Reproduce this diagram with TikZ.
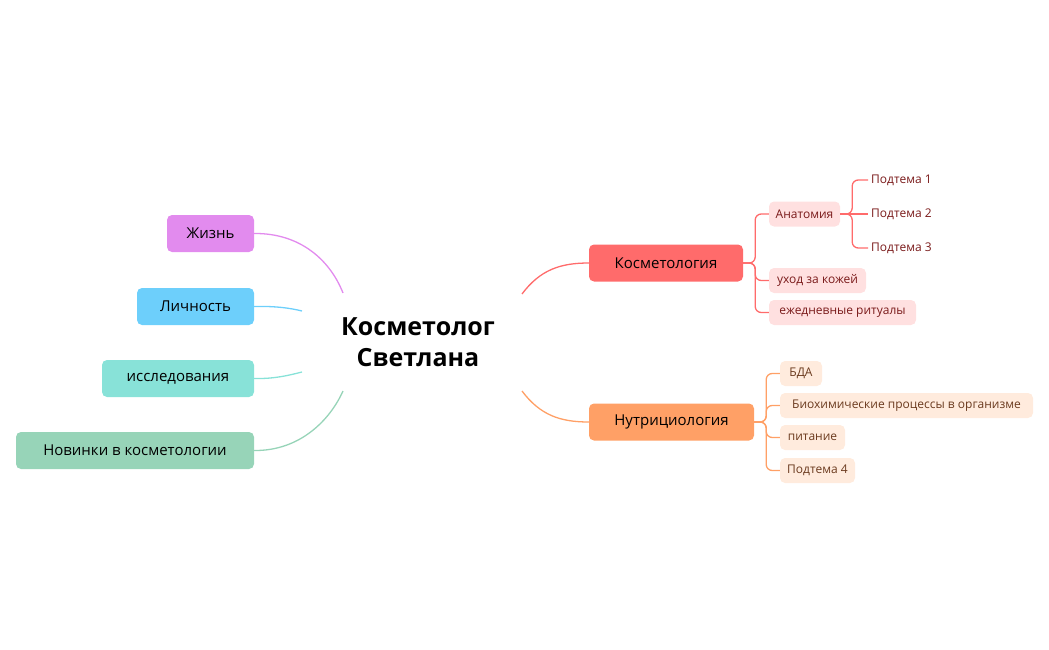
\documentclass[tikz,border=0pt]{standalone}
\usepackage{fontspec}
\setmainfont{Open Sans}
\begin{document}
\begin{tikzpicture}[x=1pt,y=-1pt,
  main/.style={rounded corners=5pt,minimum height=37pt,inner sep=0pt,font=\fontsize{15}{18}\selectfont,text=black},
  sub/.style={rounded corners=5pt,minimum height=25pt,inner sep=0pt,font=\fontsize{12}{14}\selectfont},
  ksub/.style={sub,fill=kfill,text=ktext},
  nsub/.style={sub,fill=nfill,text=ntext},
  leaf/.style={inner sep=0pt,font=\fontsize{12}{14}\selectfont,text=ktext,anchor=west},
  con/.style={line width=1.3pt}]
\definecolor{kfill}{HTML}{FFE0E0}\definecolor{ktext}{HTML}{7A1A1A}
\definecolor{nfill}{HTML}{FFEBDD}\definecolor{ntext}{HTML}{6B3A1E}
\definecolor{kcol}{HTML}{FF6B6B}\definecolor{ncol}{HTML}{FFA066}
\definecolor{c1}{HTML}{E28BEE}\definecolor{c2}{HTML}{6DCFFB}\definecolor{c3}{HTML}{88E2D8}\definecolor{c4}{HTML}{97D4B8}
\useasboundingbox (0,0) rectangle (1049,650);
\node[font=\bfseries\fontsize{25}{31}\selectfont,align=center] (c) at (418,342) {Косметолог\\Светлана};
\coordinate (c1a) at (343,293);\coordinate (c2a) at (302,311);
\coordinate (c3a) at (302,372);\coordinate (c4a) at (343,391);
\coordinate (cr1) at (522,294);\coordinate (cr2) at (522,391);
\node[main,fill=c1,minimum width=87pt] (z) at (210.5,233.5) {Жизнь};
\node[main,fill=c2,minimum width=117pt] (l) at (195.5,306.5) {Личность};
\node[main,fill=c3,minimum width=152pt] (i) at (178,378.5) {исследования};
\node[main,fill=c4,minimum width=238pt] (n) at (135,450.5) {Новинки в косметологии};
\draw[con,c1] (z.east) .. controls (300,233) and (330,260) .. (c1a);
\draw[con,c2] (l.east) .. controls (275,306) and (290,308) .. (c2a);
\draw[con,c3] (i.east) .. controls (275,379) and (290,375) .. (c3a);
\draw[con,c4] (n.east) .. controls (300,451) and (330,420) .. (c4a);
\node[main,fill=kcol,minimum width=154pt] (k) at (666,263) {Косметология};
\node[main,fill=ncol,minimum width=165pt] (nu) at (671.5,422) {Нутрициология};
\draw[con,kcol] (cr1) .. controls (540,270) and (560,263) .. (k.west);
\draw[con,ncol] (cr2) .. controls (540,415) and (560,422) .. (nu.west);
\node[ksub,minimum width=71pt] (a) at (804.5,214) {Анатомия};
\node[ksub,minimum width=97pt] (u) at (817.5,280.5) {уход за кожей};
\node[ksub,minimum width=147pt] (e) at (842.5,312.5) {ежедневные ритуалы};
\node[leaf] (p1) at (871,180) {Подтема 1};
\node[leaf] (p2) at (871,214) {Подтема 2};
\node[leaf] (p3) at (871,248) {Подтема 3};
\draw[con,kcol,rounded corners=6pt] (k.east) -- ++(12,0) |- (a.west);
\draw[con,kcol,rounded corners=6pt] (k.east) -- ++(12,0) |- (u.west);
\draw[con,kcol,rounded corners=6pt] (k.east) -- ++(12,0) |- (e.west);
\draw[con,kcol,rounded corners=6pt] (a.east) -- ++(12,0) |- ([xshift=-3pt]p1.west);
\draw[con,kcol] (a.east) -- ([xshift=-3pt]p2.west);
\draw[con,kcol,rounded corners=6pt] (a.east) -- ++(12,0) |- ([xshift=-3pt]p3.west);
\node[nsub,minimum width=42pt] (b) at (801,373.5) {БДА};
\node[nsub,minimum width=253pt] (bh) at (906.5,405.5) {Биохимические процессы в организме};
\node[nsub,minimum width=65pt] (pi) at (812.5,437.5) {питание};
\node[nsub,minimum width=75pt] (p4) at (817.5,470.5) {Подтема 4};
\draw[con,ncol,rounded corners=6pt] (nu.east) -- ++(12,0) |- (b.west);
\draw[con,ncol,rounded corners=6pt] (nu.east) -- ++(12,0) |- (bh.west);
\draw[con,ncol,rounded corners=6pt] (nu.east) -- ++(12,0) |- (pi.west);
\draw[con,ncol,rounded corners=6pt] (nu.east) -- ++(12,0) |- (p4.west);
\end{tikzpicture}
\end{document}
